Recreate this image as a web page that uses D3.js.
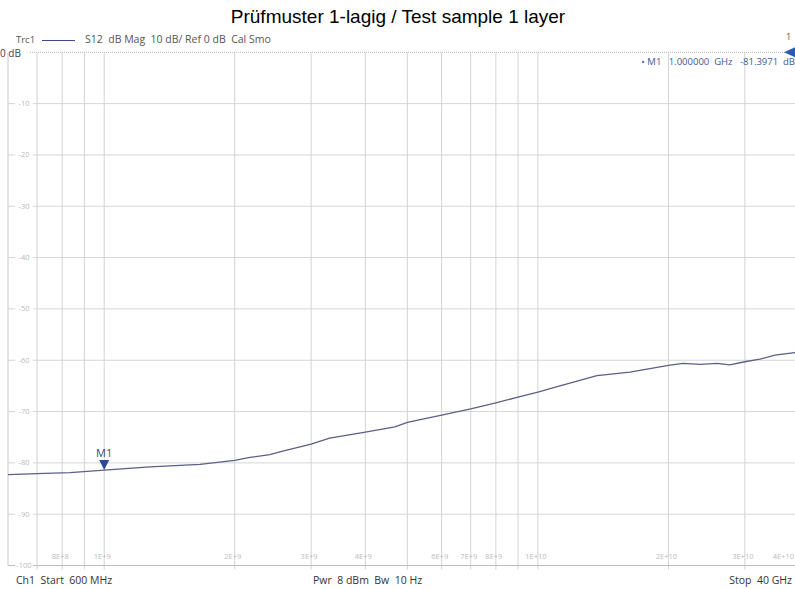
<!DOCTYPE html>
<html>
<head>
<meta charset="utf-8">
<script src="https://cdn.jsdelivr.net/npm/d3@7"></script>
<style>
  body { margin: 0; background: #fff; }
  svg { display: block; }
  text.inst { font-family: "Open Sans", sans-serif; white-space: pre; }
</style>
</head>
<body>
<svg width="795" height="589"></svg>
<script>
// Trace S12 (frequency in Hz, level in dB)
var freqs = [0.6e9, 0.7e9, 0.834e9, 1.0e9, 1.275e9, 1.663e9, 2.0e9, 2.168e9, 2.41e9, 2.58e9,
             3.0e9, 3.31e9, 4.0e9, 4.68e9, 5.0e9, 6.0e9, 7.0e9, 8.0e9, 9.09e9, 10e9,
             11.24e9, 13.68e9, 16.3e9, 20e9, 21.6e9, 23.7e9, 25.9e9, 27.7e9, 30e9, 32.5e9,
             35.2e9, 39.1e9, 40e9];
var levels = [-82.3, -82.1, -81.9, -81.4, -80.8, -80.3, -79.5, -78.95, -78.4, -77.7,
              -76.35, -75.2, -74.0, -73.0, -72.1, -70.7, -69.5, -68.3, -67.1, -66.2,
              -65.0, -63.0, -62.3, -61.0, -60.6, -60.8, -60.6, -60.9, -60.3, -59.8,
              -59.0, -58.5, -58.4];

// Grid
var xGrid = [7e8, 8e8, 9e8, 1e9, 2e9, 3e9, 4e9, 5e9, 6e9, 7e9, 8e9, 9e9, 1e10, 2e10, 3e10, 4e10];
var xLabelVals = [8e8, 1e9, 2e9, 3e9, 4e9, 6e9, 7e9, 8e9, 1e10, 2e10, 3e10, 4e10];
var xLabels = ["8E+8", "1E+9", "2E+9", "3E+9", "4E+9", "6E+9", "7E+9", "8E+9", "1E+10", "2E+10", "3E+10", "4E+10"];
var yTicks = [-10, -20, -30, -40, -50, -60, -70, -80, -90, -100];

// Marker
var markerFreq = 1e9;
var markerLevel = -81.3971;

var svg = d3.select("svg");
var pLeft = 8, pRight = 799, pTop = 52.3, pBottom = 565.5;

var x = d3.scaleLog().domain([0.6e9, 40e9]).range([pLeft, pRight]);
var y = d3.scaleLinear().domain([0, -100]).range([pTop, pBottom]);

function inst(sel, size, color) {
  return sel.attr("class", "inst").style("font-size", size + "px").attr("fill", color);
}

// Title
svg.append("text")
  .attr("x", 398).attr("y", 23)
  .attr("text-anchor", "middle")
  .style("font-family", "'Liberation Sans', Arial, sans-serif")
  .style("font-size", "19px")
  .text("Prüfmuster 1-lagig / Test sample 1 layer");

// Header line
inst(svg.append("text"), 9.5, "#555").attr("x", 16).attr("y", 43).text("Trc1");
svg.append("line").attr("x1", 42).attr("x2", 75).attr("y1", 40.5).attr("y2", 40.5)
  .attr("stroke", "#3a4a8a").attr("stroke-width", 1.2);
inst(svg.append("text"), 10.5, "#555").attr("x", 85).attr("y", 43)
  .text("S12  dB Mag  10 dB/ Ref 0 dB  Cal Smo");
inst(svg.append("text"), 9, "#555").attr("x", 786).attr("y", 40).text("1");
inst(svg.append("text"), 10, "#444").attr("x", 0).attr("y", 57).text("0 dB");

// Horizontal grid
svg.selectAll(".hgrid").data(yTicks).enter().append("line")
  .attr("x1", pLeft).attr("x2", 795)
  .attr("y1", function(d) { return y(d); }).attr("y2", function(d) { return y(d); })
  .attr("stroke", "#d6d6d6").attr("stroke-width", 1);

// Vertical grid
svg.selectAll(".vgrid").data(xGrid).enter().append("line")
  .attr("x1", function(d) { return x(d); }).attr("x2", function(d) { return x(d); })
  .attr("y1", pTop).attr("y2", pBottom + 4)
  .attr("stroke", "#d3d3d3").attr("stroke-width", 1);

// Frame
svg.append("line").attr("x1", pLeft).attr("x2", pLeft).attr("y1", pTop).attr("y2", pBottom)
  .attr("stroke", "#c8c8c8");
svg.append("line").attr("x1", pLeft).attr("x2", 795).attr("y1", pBottom).attr("y2", pBottom)
  .attr("stroke", "#bdbdbd");
svg.append("line").attr("x1", 30).attr("x2", 795).attr("y1", pTop).attr("y2", pTop)
  .attr("stroke", "#b8b8b8").attr("stroke-dasharray", "1,1");

// Y labels (with white background)
var yl = svg.selectAll(".ylab").data(yTicks).enter().append("g")
  .attr("transform", function(d) { return "translate(24," + y(d) + ")"; });
yl.append("rect").attr("x", -9).attr("y", -4).attr("width", 18).attr("height", 8).attr("fill", "#fff");
inst(yl.append("text"), 7.5, "#bbb").attr("text-anchor", "middle").attr("dy", 2.5)
  .text(function(d) { return d; });

// X labels (last one kept inside the window)
inst(svg.selectAll(".xlab").data(xLabelVals).enter().append("text"), 7.5, "#bbb")
  .attr("x", function(d, i) { return i === xLabelVals.length - 1 ? 794 : x(d) - 2; })
  .attr("y", 559)
  .attr("text-anchor", function(d, i) { return i === xLabelVals.length - 1 ? "end" : "middle"; })
  .text(function(d, i) { return xLabels[i]; });

// Trace
svg.append("clipPath").attr("id", "clip").append("rect")
  .attr("x", pLeft).attr("y", pTop).attr("width", 795 - pLeft).attr("height", pBottom - pTop);
var line = d3.line()
  .x(function(d, i) { return x(freqs[i]); })
  .y(function(d) { return y(d); });
svg.append("path").datum(levels)
  .attr("clip-path", "url(#clip)")
  .attr("d", line)
  .attr("fill", "none")
  .attr("stroke", "#5c5f86")
  .attr("stroke-width", 1.3);

// Marker M1
var mx = x(markerFreq), my = y(markerLevel);
svg.append("path")
  .attr("d", "M" + (mx - 5) + "," + (my - 10) + "L" + (mx + 5) + "," + (my - 10) + "L" + mx + "," + my + "Z")
  .attr("fill", "#2d4b93");
inst(svg.append("text"), 11, "#3b4a78").attr("x", mx).attr("y", my - 13)
  .attr("text-anchor", "middle").text("M1");

// Reference level arrow at right
svg.append("path").attr("d", "M784," + pTop + "L795," + (pTop - 5) + "L795," + (pTop + 5) + "Z")
  .attr("fill", "#2d5bb0");

// Marker readout
inst(svg.append("text"), 9.5, "#3d5a99").attr("x", 795).attr("y", 65)
  .attr("text-anchor", "end")
  .text("• M1   1.000000  GHz   -81.3971  dB");

// Footer
inst(svg.append("text"), 10.5, "#333").attr("x", 16).attr("y", 584).text("Ch1  Start  600 MHz");
inst(svg.append("text"), 10.5, "#333").attr("x", 313).attr("y", 584).text("Pwr  8 dBm  Bw  10 Hz");
inst(svg.append("text"), 10.5, "#333").attr("x", 792).attr("y", 584).attr("text-anchor", "end").text("Stop  40 GHz");
</script>
</body>
</html>
